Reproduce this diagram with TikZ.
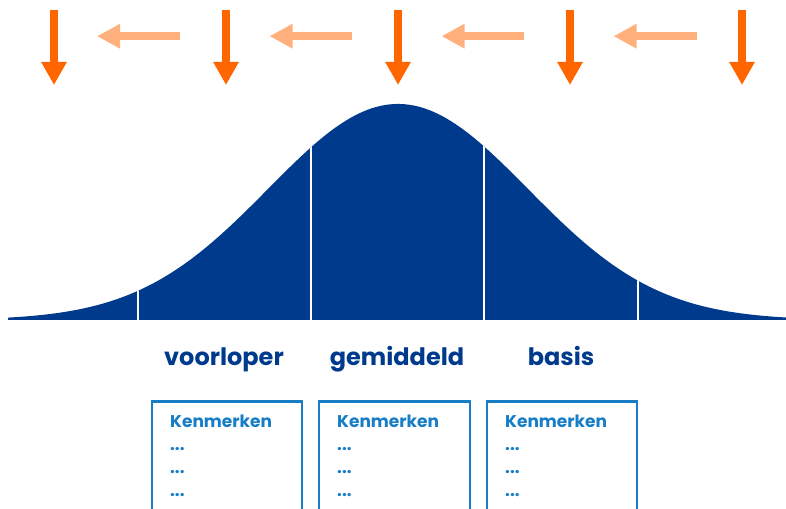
\documentclass[tikz,border=0pt]{standalone}
\usepackage{fontspec}
\setmainfont{Poppins}
\usepackage{tikz}
\usetikzlibrary{arrows.meta,positioning}

\definecolor{bellblue}{HTML}{003A8C}
\definecolor{cardblue}{HTML}{167DC6}
\definecolor{pushorange}{HTML}{FF6600}
\definecolor{pulllight}{HTML}{FFB07C}

\begin{document}
\begin{tikzpicture}[
    x=1pt, y=1pt,
    push/.style={-{Triangle[length=23pt, width=24pt]}, line width=8pt, draw=pushorange},
    pull/.style={-{Triangle[length=23pt, width=23pt]}, line width=8pt, draw=pulllight},
    divider/.style={draw=white, line width=2.7pt},
    group/.style={font=\fontsize{24}{30}\selectfont\bfseries, text=bellblue, anchor=base, inner sep=0pt},
    card/.style={rectangle, draw=cardblue, line width=2.3pt, minimum width=150.5pt, minimum height=140pt, anchor=north west, inner sep=0pt},
    cardtext/.style={font=\fontsize{17}{23}\selectfont\bfseries, text=cardblue, align=left, anchor=base west, inner sep=0pt}
]
\useasboundingbox (0,0) rectangle (786,508);
\clip (0,0) rectangle (786,508);

% Bell curve
\fill[bellblue] (8,188) -- plot[domain=8:786, samples=160, smooth]
    (\x, {188+216*exp(-0.5*((\x-398)/130)*((\x-398)/130))}) -- (786,188) -- cycle;

% Dividers
\begin{scope}
\clip (8,188) -- plot[domain=8:786, samples=160, smooth]
    (\x, {188+216*exp(-0.5*((\x-398)/130)*((\x-398)/130))}) -- (786,188) -- cycle;
\draw[divider] (138,180) -- (138,420);
\draw[divider] (311,180) -- (311,420);
\draw[divider] (484,180) -- (484,420);
\draw[divider] (638,180) -- (638,420);
\end{scope}

% Push arrows (down)
\coordinate (push1) at (54,498);  \coordinate (hit1) at (54,423);
\coordinate (push2) at (226,498); \coordinate (hit2) at (226,423);
\coordinate (push3) at (398,498); \coordinate (hit3) at (398,423);
\coordinate (push4) at (570,498); \coordinate (hit4) at (570,423);
\coordinate (push5) at (742,498); \coordinate (hit5) at (742,423);
\draw[push] (push1) -- (hit1);
\draw[push] (push2) -- (hit2);
\draw[push] (push3) -- (hit3);
\draw[push] (push4) -- (hit4);
\draw[push] (push5) -- (hit5);

% Pull arrows (to the left)
\coordinate (from1) at (180,471.8); \coordinate (to1) at (97,471.8);
\coordinate (from2) at (352,471.8); \coordinate (to2) at (269.5,471.8);
\coordinate (from3) at (524,471.8); \coordinate (to3) at (441.5,471.8);
\coordinate (from4) at (696.5,471.8); \coordinate (to4) at (613.5,471.8);
\draw[pull] (from1) -- (to1);
\draw[pull] (from2) -- (to2);
\draw[pull] (from3) -- (to3);
\draw[pull] (from4) -- (to4);

% Group labels
\node[group] (voorloper) at (224,142) {voorloper};
\node[group] (gemiddeld) at (397,142) {gemiddeld};
\node[group] (basis) at (561,142) {basis};

% Cards
\node[card] (card1) at (150.5,107.5) {};
\node[card] (card2) at (318,107.5) {};
\node[card] (card3) at (485.5,107.5) {};
\node[cardtext] (traits1) at ([xshift=19.5pt, yshift=-95.5pt]card1.north west) {Kenmerken\\...\\...\\...};
\node[cardtext] (traits2) at ([xshift=19pt, yshift=-95.5pt]card2.north west) {Kenmerken\\...\\...\\...};
\node[cardtext] (traits3) at ([xshift=19.5pt, yshift=-95.5pt]card3.north west) {Kenmerken\\...\\...\\...};

\end{tikzpicture}
\end{document}
